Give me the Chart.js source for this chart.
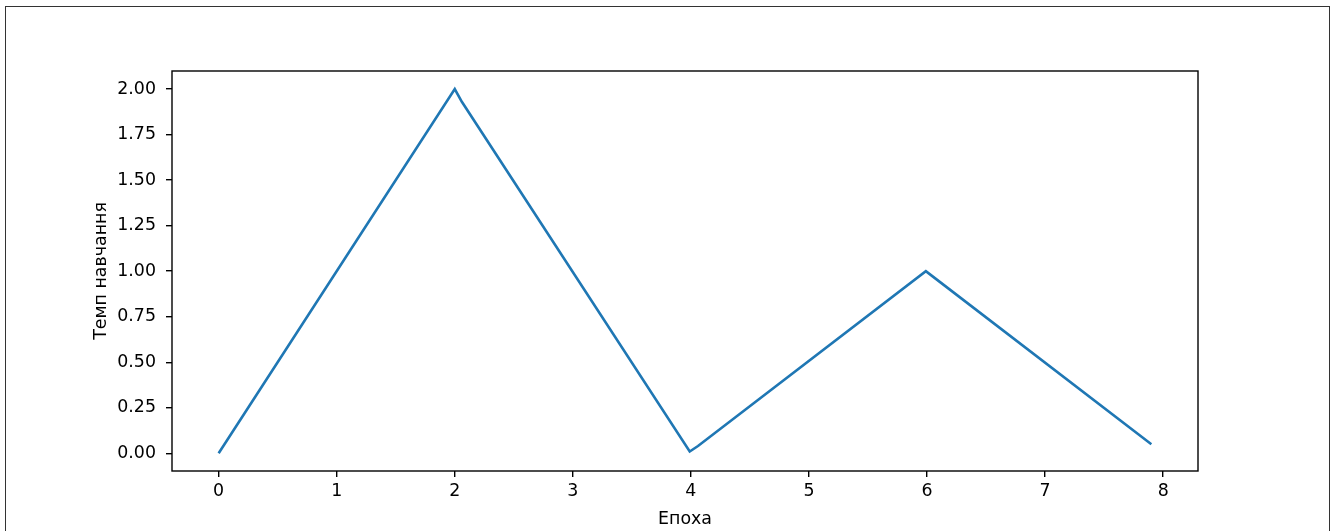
<!DOCTYPE html>
<html>
<head>
<meta charset="utf-8">
<title>Темп навчання</title>
<script src="https://cdn.jsdelivr.net/npm/chart.js@4/dist/chart.umd.min.js"></script>
<style>
  html, body { margin: 0; padding: 0; background: #fff; }
  #wrap { position: relative; width: 1336px; height: 531px; overflow: hidden; }
  #frame { position: absolute; left: 5px; top: 6px; width: 1325px; height: 600px; border: 1px solid #333; box-sizing: border-box; }
  canvas { position: absolute; left: 0; top: 0; }
</style>
</head>
<body>
<div id="wrap">
  <div id="frame"></div>
  <canvas id="lr" width="1336" height="531"></canvas>
</div>
<script>
// learning rate schedule (triangular cycles)
const epochs = [0, 2, 2.06, 3.99, 4.06, 5.99, 6.05, 7.9];
const rates = [0, 2.0, 1.93, 0.01, 0.04, 1.0, 0.97, 0.05];

const xTicks = [0, 1, 2, 3, 4, 5, 6, 7, 8];
const yTicks = [0, 0.25, 0.5, 0.75, 1.0, 1.25, 1.5, 1.75, 2.0];

const FONT = { family: 'DejaVu Sans', size: 17.4 };

// black box round the plot area, like matplotlib spines
const frameBox = {
    id: 'frameBox',
    afterDraw(chart) {
        const { ctx, chartArea: a } = chart;
        ctx.save();
        ctx.strokeStyle = '#000';
        ctx.lineWidth = 1.4;
        ctx.strokeRect(a.left, a.top, a.right - a.left, a.bottom - a.top);
        ctx.restore();
    }
};

new Chart(document.getElementById('lr'), {
    type: 'scatter',
    data: {
        datasets: [{
            label: 'lr',
            data: epochs.map((x, i) => ({ x: x, y: rates[i] })),
            showLine: true,
            borderColor: '#1f77b4',
            borderWidth: 2.6,
            pointRadius: 0,
            tension: 0,
            fill: false
        }]
    },
    options: {
        responsive: false,
        animation: false,
        layout: { padding: { left: 0, top: 71, right: 138, bottom: 0 } },
        plugins: {
            legend: { display: false },
            tooltip: { enabled: false }
        },
        scales: {
            x: {
                type: 'linear',
                min: -0.395,
                max: 8.295,
                afterBuildTicks: s => { s.ticks = xTicks.map(v => ({ value: v })); },
                afterFit: s => { s.height = 60; },
                border: { display: false },
                grid: { drawOnChartArea: false, drawTicks: true, tickLength: 6, color: '#000', lineWidth: 1.4 },
                ticks: { font: FONT, color: '#000', padding: 4, maxRotation: 0, callback: v => String(v) },
                title: { display: true, text: 'Епоха', font: FONT, color: '#000', padding: { top: 0, bottom: 1 } }
            },
            y: {
                min: -0.097,
                max: 2.099,
                afterBuildTicks: s => { s.ticks = yTicks.map(v => ({ value: v })); },
                afterFit: s => { s.width = 172; },
                border: { display: false },
                grid: { drawOnChartArea: false, drawTicks: true, tickLength: 6, color: '#000', lineWidth: 1.4 },
                ticks: { font: FONT, color: '#000', padding: 10, callback: v => v.toFixed(2) },
                title: { display: true, text: 'Темп навчання', font: FONT, color: '#000', padding: { top: 91, bottom: 0 } }
            }
        }
    },
    plugins: [frameBox]
});
</script>
</body>
</html>
